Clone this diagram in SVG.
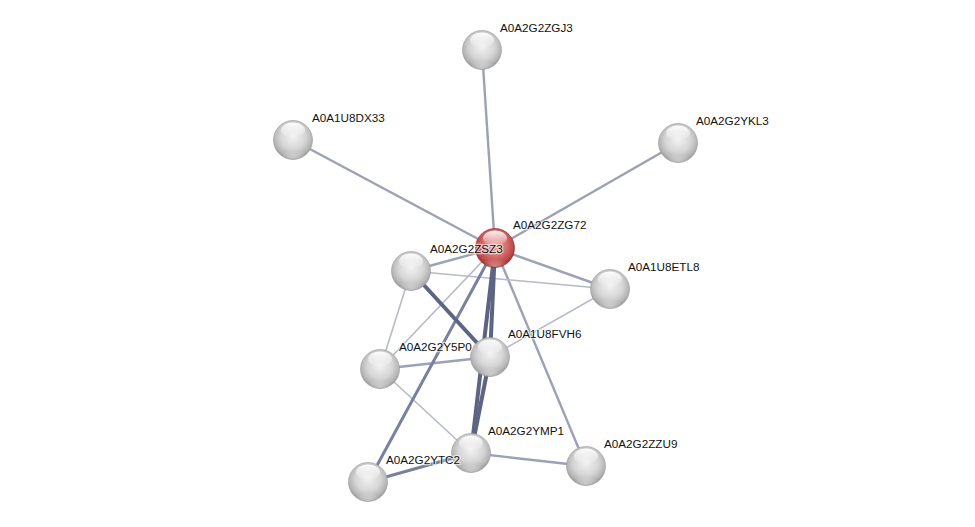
<svg xmlns="http://www.w3.org/2000/svg" width="975" height="527" viewBox="0 0 975 527">
<defs>
<radialGradient id="gBody" cx="50%" cy="42%" r="58%">
<stop offset="0%" stop-color="#f2f2f2"/>
<stop offset="55%" stop-color="#d6d6d6"/>
<stop offset="85%" stop-color="#b4b4b4"/>
<stop offset="100%" stop-color="#8e8e8e"/>
</radialGradient>
<radialGradient id="rBody" cx="50%" cy="42%" r="58%">
<stop offset="0%" stop-color="#f0a0a0"/>
<stop offset="55%" stop-color="#d66a6a"/>
<stop offset="85%" stop-color="#b84444"/>
<stop offset="100%" stop-color="#8a2424"/>
</radialGradient>
<linearGradient id="hl" x1="0" y1="0" x2="0" y2="1">
<stop offset="0%" stop-color="#ffffff" stop-opacity="0.95"/>
<stop offset="100%" stop-color="#ffffff" stop-opacity="0.05"/>
</linearGradient>
<radialGradient id="bottomGlow" cx="50%" cy="100%" r="60%">
<stop offset="0%" stop-color="#ffffff" stop-opacity="0.45"/>
<stop offset="100%" stop-color="#ffffff" stop-opacity="0"/>
</radialGradient>
</defs>
<style>
.e{fill:none;stroke-linecap:round}
.light{stroke:#b6bac9;stroke-width:1.6}
.med{stroke:#9ca1b4;stroke-width:2.4}
.mdark{stroke:#7a819c;stroke-width:3}
.dark{stroke:#5d6582;stroke-width:4}
.body{fill:url(#gBody);stroke:#9a9a9a;stroke-width:0.6}
.rbody{fill:url(#rBody);stroke:#8a2a2a;stroke-width:0.6}
.hl{fill:url(#hl)}
.bg{fill:url(#bottomGlow)}
text{font-family:"Liberation Sans",Arial,sans-serif;font-size:11.7px;fill:#111;stroke:#ffffff;stroke-width:2.5;stroke-opacity:0.6;paint-order:stroke;stroke-linejoin:round}
</style>
<rect width="975" height="527" fill="#ffffff"/>
<g id="connectors">
<line class="e med" x1="495" y1="248" x2="482" y2="50"/>
<line class="e med" x1="495" y1="248" x2="293" y2="140"/>
<line class="e med" x1="495" y1="248" x2="678" y2="143"/>
<line class="e med" x1="495" y1="248" x2="411" y2="271"/>
<line class="e med" x1="495" y1="248" x2="610" y2="289"/>
<line class="e med" x1="495" y1="248" x2="586" y2="466"/>
<line class="e med" x1="471" y1="453" x2="586" y2="466"/>
<line class="e med" x1="380" y1="369" x2="490" y2="357"/>
<line class="e light" x1="411" y1="271" x2="610" y2="289"/>
<line class="e light" x1="411" y1="271" x2="380" y2="369"/>
<line class="e light" x1="495" y1="248" x2="380" y2="369"/>
<line class="e light" x1="490" y1="357" x2="610" y2="289"/>
<line class="e light" x1="380" y1="369" x2="471" y2="453"/>
<line class="e mdark" x1="495" y1="248" x2="368" y2="482"/>
<line class="e mdark" x1="471" y1="453" x2="368" y2="482"/>
<line class="e dark" x1="411" y1="271" x2="490" y2="357"/>
<line class="e dark" x1="495" y1="248" x2="490" y2="357"/>
<line class="e dark" x1="495" y1="248" x2="471" y2="453"/>
<line class="e dark" x1="490" y1="357" x2="471" y2="453"/>
</g>
<g id="n-A0A2G2ZGJ3">
<circle class="body" cx="482" cy="50" r="19.5"/>
<ellipse class="bg" cx="482" cy="62" rx="13" ry="7"/>
<ellipse class="hl" cx="482" cy="40" rx="12" ry="7.5"/>
<text x="500" y="32">A0A2G2ZGJ3</text>
</g>
<g id="n-A0A1U8DX33">
<circle class="body" cx="293" cy="140" r="19.5"/>
<ellipse class="bg" cx="293" cy="152" rx="13" ry="7"/>
<ellipse class="hl" cx="293" cy="130" rx="12" ry="7.5"/>
<text x="312" y="122">A0A1U8DX33</text>
</g>
<g id="n-A0A2G2YKL3">
<circle class="body" cx="678" cy="143" r="19.5"/>
<ellipse class="bg" cx="678" cy="155" rx="13" ry="7"/>
<ellipse class="hl" cx="678" cy="133" rx="12" ry="7.5"/>
<text x="696" y="125">A0A2G2YKL3</text>
</g>
<g id="n-A0A2G2ZG72">
<circle class="rbody" cx="495" cy="248" r="19.5"/>
<ellipse class="bg" cx="495" cy="260" rx="13" ry="7"/>
<ellipse class="hl" cx="495" cy="238" rx="12" ry="7.5"/>
<text x="513" y="229">A0A2G2ZG72</text>
</g>
<g id="n-A0A2G2ZSZ3">
<circle class="body" cx="411" cy="271" r="19.5"/>
<ellipse class="bg" cx="411" cy="283" rx="13" ry="7"/>
<ellipse class="hl" cx="411" cy="261" rx="12" ry="7.5"/>
<text x="430" y="253">A0A2G2ZSZ3</text>
</g>
<g id="n-A0A1U8ETL8">
<circle class="body" cx="610" cy="289" r="19.5"/>
<ellipse class="bg" cx="610" cy="301" rx="13" ry="7"/>
<ellipse class="hl" cx="610" cy="279" rx="12" ry="7.5"/>
<text x="628" y="271">A0A1U8ETL8</text>
</g>
<g id="n-A0A1U8FVH6">
<circle class="body" cx="490" cy="357" r="19.5"/>
<ellipse class="bg" cx="490" cy="369" rx="13" ry="7"/>
<ellipse class="hl" cx="490" cy="347" rx="12" ry="7.5"/>
<text x="508" y="338">A0A1U8FVH6</text>
</g>
<g id="n-A0A2G2Y5P0">
<circle class="body" cx="380" cy="369" r="19.5"/>
<ellipse class="bg" cx="380" cy="381" rx="13" ry="7"/>
<ellipse class="hl" cx="380" cy="359" rx="12" ry="7.5"/>
<text x="399" y="351">A0A2G2Y5P0</text>
</g>
<g id="n-A0A2G2ZZU9">
<circle class="body" cx="586" cy="466" r="19.5"/>
<ellipse class="bg" cx="586" cy="478" rx="13" ry="7"/>
<ellipse class="hl" cx="586" cy="456" rx="12" ry="7.5"/>
<text x="604" y="448">A0A2G2ZZU9</text>
</g>
<g id="n-A0A2G2YMP1">
<circle class="body" cx="471" cy="453" r="19.5"/>
<ellipse class="bg" cx="471" cy="465" rx="13" ry="7"/>
<ellipse class="hl" cx="471" cy="443" rx="12" ry="7.5"/>
<text x="488" y="435">A0A2G2YMP1</text>
</g>
<g id="n-A0A2G2YTC2">
<circle class="body" cx="368" cy="482" r="19.5"/>
<ellipse class="bg" cx="368" cy="494" rx="13" ry="7"/>
<ellipse class="hl" cx="368" cy="472" rx="12" ry="7.5"/>
<text x="386" y="464">A0A2G2YTC2</text>
</g>
</svg>
